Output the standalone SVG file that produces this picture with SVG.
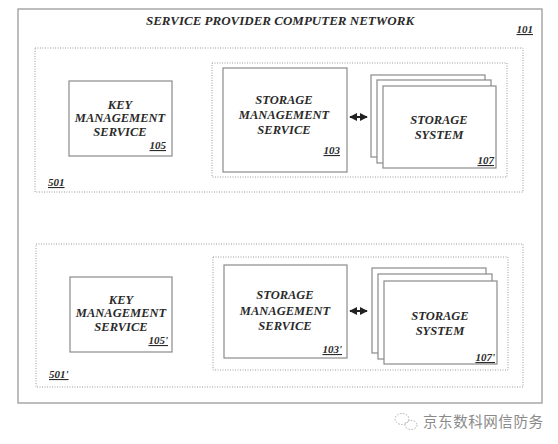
<svg xmlns="http://www.w3.org/2000/svg" width="558" height="444" viewBox="0 0 558 444">
<style>
.t{font-family:"Liberation Serif","DejaVu Serif",serif;font-style:italic;font-weight:bold;fill:#2a2a2a;}
.lbl{font-size:12.5px;text-anchor:middle;}
.num{font-size:11px;text-decoration:underline;text-anchor:end;}
.box{fill:#fff;stroke:#8a8a8a;stroke-width:1.2;}
.dot{fill:none;stroke:#9a9a9a;stroke-width:1;stroke-dasharray:1 1.5;}
.outer{fill:none;stroke:#9a9a9a;stroke-width:1.3;}
.wm{font-family:"Noto Sans CJK SC",sans-serif;font-size:14.5px;fill:#8a8a8a;}
</style>
<defs>
<marker id="ah" viewBox="0 0 10 10" refX="9" refY="5" markerWidth="4" markerHeight="4" orient="auto-start-reverse" markerUnits="strokeWidth">
<path d="M0,0 L10,5 L0,10 z" fill="#222"/>
</marker>
</defs>
<rect width="558" height="444" fill="#fff"/>
<g id="n101">
<rect class="outer" x="18" y="9" width="524" height="394"/>
<text class="t" x="280" y="25" font-size="13" text-anchor="middle">SERVICE PROVIDER COMPUTER NETWORK</text>
<text class="t num" x="533" y="33">101</text>
</g>
<g id="n501">
<rect class="dot" x="35" y="48" width="488" height="144"/>
<text class="t" x="48" y="186" font-size="11" text-decoration="underline">501</text>
</g>
<g id="grp1">
<rect class="dot" x="212" y="63" width="295" height="114"/>
</g>
<g id="n105">
<rect class="box" x="69" y="81" width="103" height="75"/>
<text class="t lbl" x="120" y="109">KEY</text>
<text class="t lbl" x="120" y="122">MANAGEMENT</text>
<text class="t lbl" x="120" y="136">SERVICE</text>
<text class="t num" x="166" y="149">105</text>
</g>
<g id="n103">
<rect class="box" x="223" y="68" width="124" height="104"/>
<text class="t lbl" x="284" y="104">STORAGE</text>
<text class="t lbl" x="284" y="119">MANAGEMENT</text>
<text class="t lbl" x="284" y="134">SERVICE</text>
<text class="t num" x="340" y="154">103</text>
</g>
<g id="n107">
<rect class="box" x="371" y="75" width="114" height="82"/>
<rect class="box" x="377" y="80" width="114" height="83"/>
<rect class="box" x="383" y="86" width="113" height="82"/>
<text class="t lbl" x="439" y="124">STORAGE</text>
<text class="t lbl" x="439" y="139">SYSTEM</text>
<text class="t num" x="494" y="164">107</text>
</g>
<g id="n501p">
<rect class="dot" x="36" y="244" width="487" height="143"/>
<text class="t" x="49" y="378" font-size="11" text-decoration="underline">501'</text>
</g>
<g id="grp2">
<rect class="dot" x="213" y="257" width="295" height="113"/>
</g>
<g id="n105p">
<rect class="box" x="70" y="277" width="102" height="75"/>
<text class="t lbl" x="121" y="304">KEY</text>
<text class="t lbl" x="121" y="317">MANAGEMENT</text>
<text class="t lbl" x="121" y="331">SERVICE</text>
<text class="t num" x="168" y="344">105'</text>
</g>
<g id="n103p">
<rect class="box" x="224" y="265" width="123" height="93"/>
<text class="t lbl" x="285" y="299">STORAGE</text>
<text class="t lbl" x="285" y="315">MANAGEMENT</text>
<text class="t lbl" x="285" y="330">SERVICE</text>
<text class="t num" x="342" y="353">103'</text>
</g>
<g id="n107p">
<rect class="box" x="372" y="268" width="114" height="85"/>
<rect class="box" x="378" y="274" width="114" height="85"/>
<rect class="box" x="384" y="281" width="113" height="83"/>
<text class="t lbl" x="440" y="320">STORAGE</text>
<text class="t lbl" x="440" y="335">SYSTEM</text>
<text class="t num" x="495" y="361">107'</text>
</g>
<g id="connectors">
<line x1="350" y1="117" x2="367" y2="117" stroke="#222" stroke-width="2" marker-start="url(#ah)" marker-end="url(#ah)"/>
<line x1="350" y1="311" x2="367" y2="311" stroke="#222" stroke-width="2" marker-start="url(#ah)" marker-end="url(#ah)"/>
</g>
<g id="watermark">
<ellipse cx="402" cy="419" rx="7" ry="5.5" fill="none" stroke="#aaa" stroke-width="1" stroke-dasharray="1.5 1.5"/>
<ellipse cx="411" cy="425" rx="6" ry="4.5" fill="none" stroke="#aaa" stroke-width="1" stroke-dasharray="1.5 1.5"/>
<text class="wm" x="423" y="427" textLength="120">京东数科网信防务</text>
</g>
</svg>
